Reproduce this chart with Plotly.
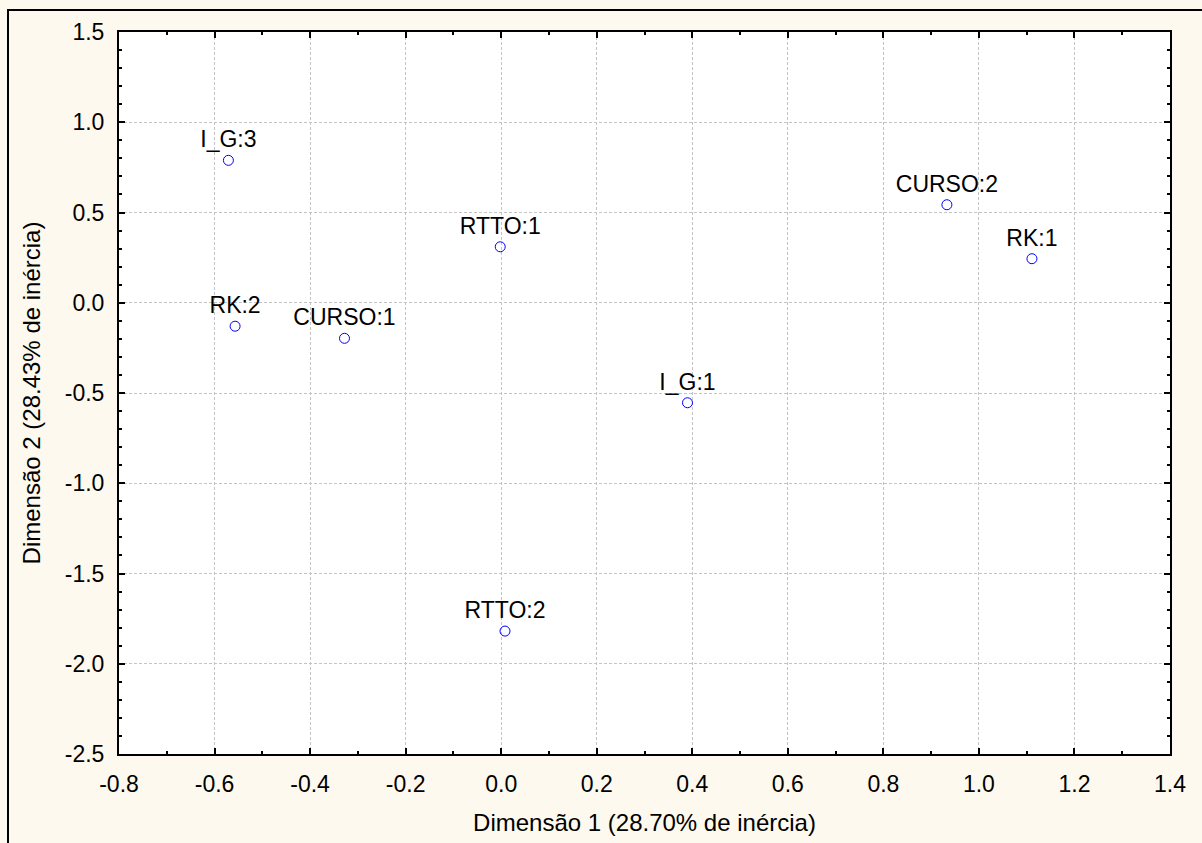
import plotly.graph_objects as go

labels = ["I_G:3", "RK:2", "CURSO:1", "RTTO:1", "RTTO:2", "I_G:1", "CURSO:2", "RK:1"]
dim1 = [-0.571, -0.557, -0.328, -0.002, 0.008, 0.390, 0.933, 1.111]
dim2 = [0.789, -0.130, -0.197, 0.310, -1.819, -0.554, 0.543, 0.244]

x_tickvals = [-0.8, -0.6, -0.4, -0.2, 0.0, 0.2, 0.4, 0.6, 0.8, 1.0, 1.2, 1.4]
x_ticktext = ["-0.8", "-0.6", "-0.4", "-0.2", "0.0", "0.2", "0.4", "0.6", "0.8", "1.0", "1.2", "1.4"]
y_tickvals = [1.5, 1.0, 0.5, 0.0, -0.5, -1.0, -1.5, -2.0, -2.5]
y_ticktext = ["1.5", "1.0", "0.5", "0.0", "-0.5", "-1.0", "-1.5", "-2.0", "-2.5"]

x_title = "Dimensão 1 (28.70% de inércia)"
y_title = "Dimensão 2 (28.43% de inércia)"

FONT = "Liberation Sans, Arial, sans-serif"
BG = "#FDF9EE"

fig = go.Figure()
fig.add_trace(go.Scatter(
    x=dim1, y=dim2, mode="markers+text", text=labels,
    textposition="top center",
    textfont=dict(family=FONT, size=23, color="black"),
    marker=dict(symbol="circle-open", size=10, color="#0000FF", line=dict(width=1, color="#0000FF")),
    showlegend=False, cliponaxis=False,
))

axis_common = dict(
    showline=True, linecolor="black", linewidth=2, mirror="ticks",
    ticks="inside", ticklen=6, tickwidth=1.5, tickcolor="black",
    showgrid=True, gridcolor="#C4C4C4", gridwidth=1, griddash="3px,2px",
    zeroline=False, tickmode="array",
    tickfont=dict(family=FONT, size=23, color="black"),
    title_font=dict(family=FONT, size=24, color="black"),
)

fig.update_xaxes(
    **axis_common, range=[-0.8, 1.4], tickvals=x_tickvals, ticktext=x_ticktext,
    minor=dict(dtick=0.1, tick0=0, ticks="inside", ticklen=3, tickcolor="black", showgrid=False),
    title_text=x_title, title_standoff=19, ticklabelstandoff=8,
)
fig.update_yaxes(
    **axis_common, range=[-2.5, 1.5], tickvals=y_tickvals, ticktext=y_ticktext,
    minor=dict(dtick=0.1, tick0=0, ticks="inside", ticklen=3, tickcolor="black", showgrid=False),
    title_text=y_title, title_standoff=17, ticklabelstandoff=8,
)

fig.add_shape(type="rect", xref="paper", yref="paper",
              x0=(8 - 119) / 1051, x1=1.2, y0=-0.2, y1=1 + (32 - 10) / 722,
              line=dict(color="black", width=2), fillcolor="rgba(0,0,0,0)", layer="below")

fig.update_layout(
    width=1202, height=843,
    margin=dict(l=119, r=32, t=32, b=89),
    paper_bgcolor=BG, plot_bgcolor="white",
    font=dict(family=FONT, size=23, color="black"),
)

fig.write_html("out.html")
